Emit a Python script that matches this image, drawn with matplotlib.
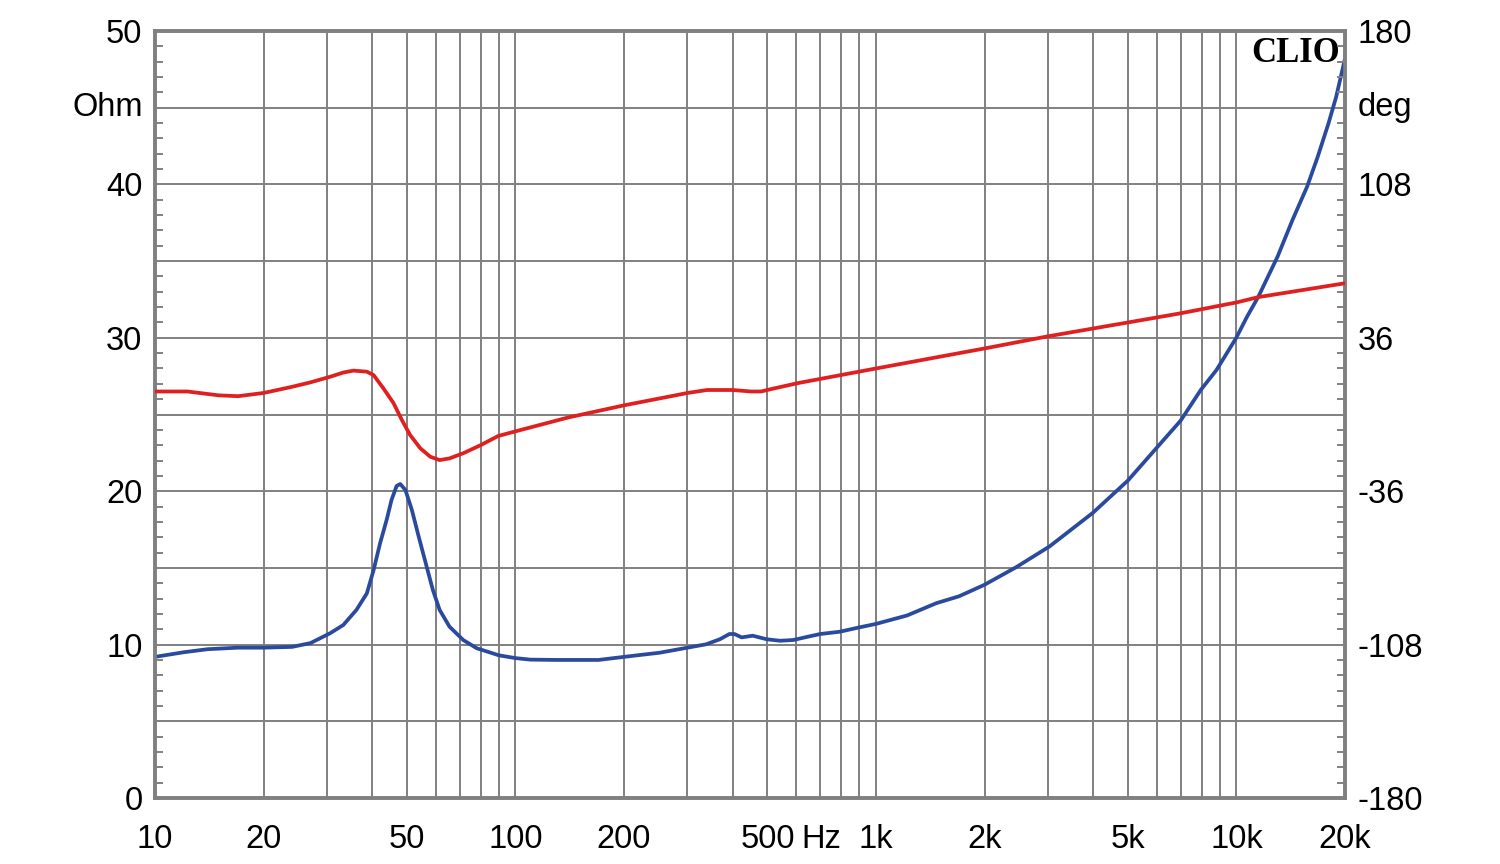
import numpy as np
import matplotlib
matplotlib.use("Agg")
import matplotlib.pyplot as plt
from matplotlib.ticker import FixedLocator, NullFormatter

# ---- data ----
imp_freq = [10, 12, 14, 17, 20, 24, 27, 30.6, 33.3, 36.2, 38.7, 40.4, 42.1, 43.9, 45.3,
            46.8, 47.9, 49.5, 51.6, 53.9, 56.7, 59.0, 61.6, 65.6, 71.6, 78.1, 90, 100, 110,
            130, 170, 200, 221, 251, 300, 338, 369, 392, 405, 424, 455, 497, 542, 590, 643,
            700, 794, 890, 1000, 1220, 1470, 1700, 2000, 2450, 3030, 4000, 5000, 5940, 7000,
            7960, 8800, 9970, 10700, 11500, 13000, 14300, 15700, 16800, 18000, 18900, 20000]
imp_ohm = [9.2, 9.5, 9.7, 9.8, 9.8, 9.85, 10.1, 10.74, 11.28, 12.26, 13.34, 14.86, 16.6,
           18.12, 19.43, 20.34, 20.47, 20.08, 18.77, 17.03, 15.08, 13.56, 12.26, 11.17, 10.3,
           9.76, 9.3, 9.12, 9.02, 9.0, 9.0, 9.2, 9.32, 9.47, 9.8, 10.02, 10.35, 10.69, 10.69,
           10.47, 10.58, 10.35, 10.25, 10.3, 10.5, 10.69, 10.84, 11.1, 11.35, 11.9, 12.7,
           13.15, 13.9, 15.05, 16.4, 18.6, 20.7, 22.7, 24.6, 26.6, 27.9, 29.97, 31.38, 32.68,
           35.29, 37.68, 39.85, 41.8, 43.98, 45.7, 48.2]

ph_freq = [10, 12.3, 15, 17, 20, 24, 27, 30.6, 33.3, 35.5, 38.7, 40.4, 43.0, 45.9, 48.4,
           51.0, 54.4, 58.0, 61.6, 65.6, 71.6, 80, 89.5, 100, 140, 200, 300, 340, 400, 450,
           480, 520, 610, 1000, 2000, 3000, 5000, 7000, 10000, 11500, 20000]
ph_deg = [10.8, 10.8, 9.0, 8.6, 10.1, 13.0, 15.1, 17.7, 19.7, 20.6, 20.1, 18.5, 12.3, 5.3,
          -2.6, -9.6, -15.8, -19.8, -21.4, -20.6, -18.2, -14.4, -10.1, -7.9, -1.4, 4.3, 10.1,
          11.5, 11.5, 10.8, 10.8, 12.2, 14.8, 21.6, 31.0, 36.7, 43.2, 47.5, 52.6, 55.1, 61.6]

xtick_vals = [10, 20, 50, 100, 200, 500, 1000, 2000, 5000, 10000, 20000]
xtick_labels = ["10", "20", "50", "100", "200", "500", "1k", "2k", "5k", "10k", "20k"]
ytick_left = [0, 10, 20, 30, 40, 50]
ytick_right = [-180, -108, -36, 36, 108, 180]

# ---- figure ----
plt.rcParams['font.family'] = ['Liberation Sans', 'DejaVu Sans']
plt.rcParams['axes.unicode_minus'] = False
FS = 23.5
fig = plt.figure(figsize=(15, 8.64), dpi=100)
ax = fig.add_axes([155/1500, 1-798/864, 1190/1500, 767/864])
ax2 = ax.twinx()

grid_c = '#808080'
ax.set_xscale('log')
ax.set_xlim(10, 20000)
ax.set_ylim(0, 50)
ax2.set_ylim(-180, 180)

# grid
vgrid = [v * d for d in (10, 100, 1000) for v in range(1, 10)] + [10000, 20000]
vgrid = [g for g in vgrid if 10 < g < 20000]
for g in vgrid:
    ax.axvline(g, color=grid_c, lw=1.4, zorder=1)
for h in range(5, 50, 5):
    ax.axhline(h, color=grid_c, lw=1.4, zorder=1)

ax.plot(imp_freq, imp_ohm, color='#2a4a9e', lw=2.7, zorder=3,
        solid_joinstyle='round', solid_capstyle='round')
ax2.plot(ph_freq, ph_deg, color='#e01f1f', lw=2.7, zorder=3,
         solid_joinstyle='round', solid_capstyle='round')

for a in (ax, ax2):
    for s in a.spines.values():
        s.set_color(grid_c)
        s.set_linewidth(2.6)

ax.xaxis.set_major_locator(FixedLocator(xtick_vals))
ax.set_xticklabels(xtick_labels)
ax.xaxis.set_minor_locator(FixedLocator([]))
ax.xaxis.set_minor_formatter(NullFormatter())
XPAD = 19
ax.tick_params(axis='x', which='both', length=0, labelsize=FS, pad=XPAD, colors='black')

ax.set_yticks(ytick_left)
ax.yaxis.set_minor_locator(FixedLocator([v for v in range(1, 50) if v % 5 != 0]))
ax.tick_params(axis='y', which='major', length=0, labelsize=FS, pad=9)
ax.tick_params(axis='y', which='minor', length=6, width=1.4, direction='in', color=grid_c)

ax2.set_yticks(ytick_right)
ax2.yaxis.set_minor_locator(FixedLocator([-180 + 7.2 * v for v in range(1, 50) if v % 5 != 0]))
ax2.tick_params(axis='y', which='major', length=0, labelsize=FS, pad=9)
ax2.tick_params(axis='y', which='minor', length=6, width=1.4, direction='in', color=grid_c)

# unit labels
ax.annotate("Ohm", xy=(0, 45), xycoords=('axes fraction', 'data'), xytext=(-9, 0),
            textcoords='offset points', ha='right', va='center', fontsize=FS)
ax2.annotate("deg", xy=(1, 45 * 7.2 - 180), xycoords=('axes fraction', 'data'), xytext=(9, 0),
             textcoords='offset points', ha='left', va='center', fontsize=FS)
ax.annotate("Hz", xy=(705, 0), xycoords=('data', 'axes fraction'), xytext=(0, -XPAD),
            textcoords='offset points', ha='center', va='top', fontsize=FS)

ax.text(0.996, 0.992, "CLIO", transform=ax.transAxes, ha='right', va='top',
        fontsize=25, fontweight='bold', family=['Liberation Serif', 'DejaVu Serif'], zorder=5)

fig.savefig("out.png", dpi=100, facecolor='white')
